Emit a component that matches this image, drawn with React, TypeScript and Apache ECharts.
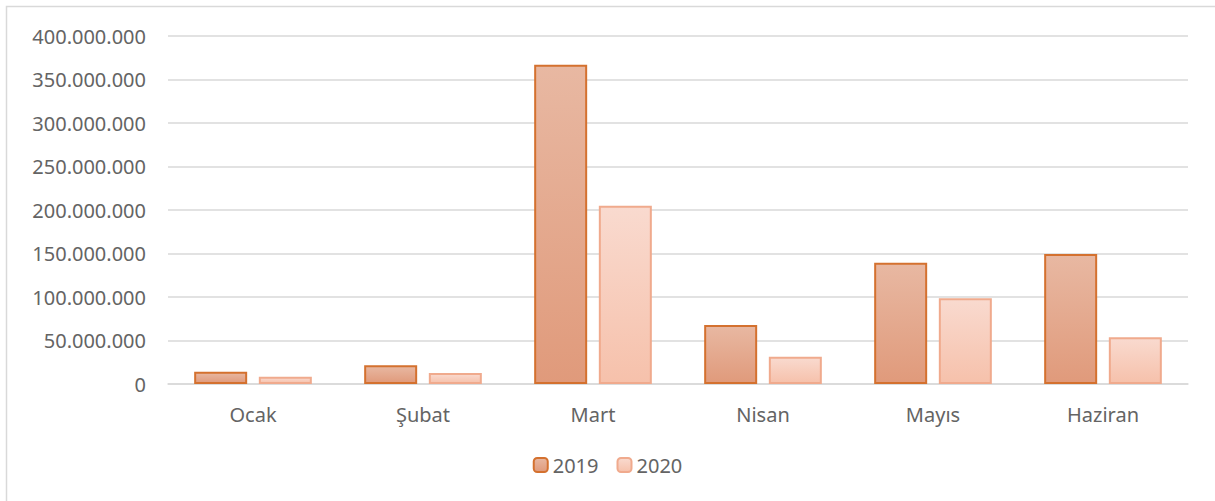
import React, { useEffect, useRef } from "react";
import * as echarts from "echarts";

const categories = ["Ocak", "Şubat", "Mart", "Nisan", "Mayıs", "Haziran"];
const series2019 = [14100000, 21500000, 367000000, 67800000, 139400000, 149400000];
const series2020 = [8400000, 12600000, 205000000, 31400000, 98500000, 53700000];
const seriesNames = ["2019", "2020"];

const fmt = (v: number) => String(Math.round(v)).replace(/\B(?=(\d{3})+(?!\d))/g, ".");

export default function App() {
  const ref = useRef<HTMLDivElement>(null);
  useEffect(() => {
    const chart = echarts.init(ref.current!, null, { renderer: "svg" });
    const font = "'Noto Sans', sans-serif";
    const txt = "#646464";
    const grad = (a: string, b: string) =>
      new echarts.graphic.LinearGradient(0, 0, 0, 1, [
        { offset: 0, color: a },
        { offset: 1, color: b },
      ]);
    chart.setOption({
      animation: false,
      backgroundColor: "#ffffff",
      graphic: [
        {
          type: "rect",
          shape: { x: 6.5, y: 6.5, width: 1300, height: 600 },
          style: { fill: "none", stroke: "#d9d9d9", lineWidth: 1.5 },
          silent: true,
        },
      ],
      grid: { left: 168, right: 27, top: 36, bottom: 117 },
      legend: {
        data: seriesNames,
        bottom: 21,
        left: "center",
        itemWidth: 14,
        itemHeight: 14,
        itemGap: 18,
        textStyle: { color: txt, fontSize: 20, fontFamily: font },
      },
      xAxis: {
        type: "category",
        data: categories,
        axisLine: { lineStyle: { color: "#d9d9d9", width: 1.5 } },
        axisTick: { show: false },
        axisLabel: { color: txt, fontSize: 20, fontFamily: font, margin: 20 },
      },
      yAxis: {
        type: "value",
        min: 0,
        max: 400000000,
        interval: 50000000,
        axisLine: { show: false },
        axisTick: { show: false },
        splitLine: { lineStyle: { color: "#d9d9d9", width: 1.5 } },
        axisLabel: {
          color: txt,
          fontSize: 20,
          fontFamily: font,
          margin: 22,
          formatter: (v: number) => fmt(v),
        },
      },
      series: [
        {
          name: seriesNames[0],
          type: "bar",
          data: series2019,
          barWidth: 53,
          barGap: "22%",
          itemStyle: {
            color: grad("#e8b8a2", "#e09a7b"),
            borderColor: "#d4712f",
            borderWidth: 2,
          },
        },
        {
          name: seriesNames[1],
          type: "bar",
          data: series2020,
          barWidth: 53,
          itemStyle: {
            color: grad("#f9dacf", "#f6c1ab"),
            borderColor: "#f0aa8d",
            borderWidth: 2,
          },
        },
      ],
    });
    return () => chart.dispose();
  }, []);
  return (
    <div
      ref={ref}
      style={{ position: "fixed", left: 0, top: 0, width: 1215, height: 501 }}
    />
  );
}
